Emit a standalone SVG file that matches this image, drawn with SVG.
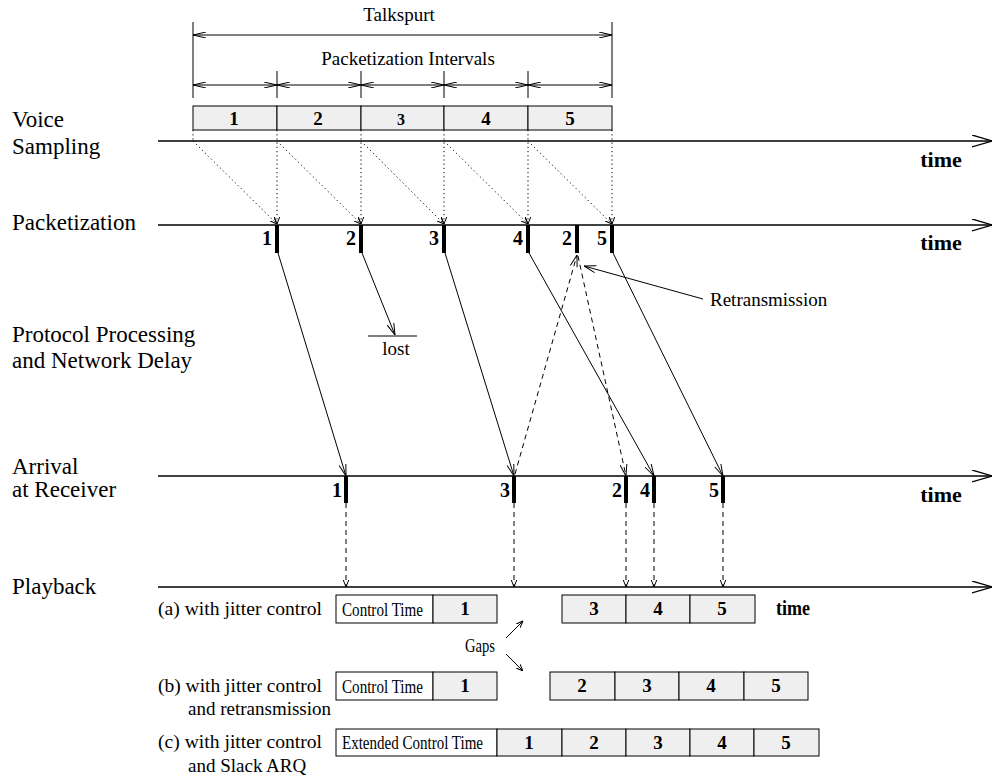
<svg xmlns="http://www.w3.org/2000/svg" width="994" height="776" viewBox="0 0 994 776">
  <style>
    text { font-family: "Liberation Serif", "Times New Roman", serif; fill: #000; }
    .h { font-size: 23px; }
    .n { font-size: 19px; }
    .c { font-size: 19.5px; }
    .b { font-size: 20px; font-weight: bold; }
    .bn { font-size: 19px; font-weight: bold; }
    .t { font-size: 22px; font-weight: bold; }
    .mid { text-anchor: middle; }
    .end { text-anchor: end; }
    .ln { stroke: #000; stroke-width: 1.3; fill: none; }
    .thin { stroke: #000; stroke-width: 1; fill: none; }
    .dot { stroke: #000; stroke-width: 1; stroke-dasharray: 1.2 3; fill: none; }
    .dash { stroke: #000; stroke-width: 1; stroke-dasharray: 5 4; fill: none; }
    .bar { stroke: #000; stroke-width: 4; }
    .cell { fill: #efefef; stroke: #000; stroke-width: 1; }
    .wcell { fill: #fff; stroke: #000; stroke-width: 1; }
  </style>
  <defs>
    <marker id="arr" viewBox="0 0 12 8" refX="12" refY="4" markerWidth="12" markerHeight="8" orient="auto" markerUnits="userSpaceOnUse">
      <path d="M0,0.5 L12,4 L0,7.5" fill="none" stroke="#000" stroke-width="1"/>
    </marker>
    <marker id="sm" viewBox="0 0 7 6" refX="7" refY="3" markerWidth="7" markerHeight="6" orient="auto" markerUnits="userSpaceOnUse">
      <path d="M0,0.3 L7,3 L0,5.7" fill="none" stroke="#000" stroke-width="1"/>
    </marker>
    <marker id="dim" viewBox="0 0 13 6" refX="13" refY="3" markerWidth="13" markerHeight="6" orient="auto-start-reverse" markerUnits="userSpaceOnUse">
      <path d="M0,0 L13,3 L0,6" fill="none" stroke="#000" stroke-width="1"/>
    </marker>
    <marker id="axis" viewBox="0 0 20 13" refX="20" refY="6.5" markerWidth="20" markerHeight="13" orient="auto" markerUnits="userSpaceOnUse">
      <path d="M0,0.5 L20,6.5 L0,12.5" fill="none" stroke="#000" stroke-width="1.3"/>
    </marker>
  </defs>

  <!-- talkspurt and packetization interval dimensions -->
  <g id="dimensions">
    <text class="n mid" x="399" y="21">Talkspurt</text>
    <line class="thin" x1="193" y1="22" x2="193" y2="98"/>
    <line class="thin" x1="612" y1="22" x2="612" y2="98"/>
    <line class="thin" x1="193" y1="35" x2="612" y2="35" marker-start="url(#dim)" marker-end="url(#dim)"/>
    <text class="n mid" x="408" y="65">Packetization Intervals</text>
    <line class="thin" x1="277" y1="71" x2="277" y2="98"/>
    <line class="thin" x1="361" y1="71" x2="361" y2="98"/>
    <line class="thin" x1="444" y1="71" x2="444" y2="98"/>
    <line class="thin" x1="528" y1="71" x2="528" y2="98"/>
    <line class="thin" x1="193" y1="85" x2="277" y2="85" marker-start="url(#dim)" marker-end="url(#dim)"/>
    <line class="thin" x1="277" y1="85" x2="361" y2="85" marker-start="url(#dim)" marker-end="url(#dim)"/>
    <line class="thin" x1="361" y1="85" x2="444" y2="85" marker-start="url(#dim)" marker-end="url(#dim)"/>
    <line class="thin" x1="444" y1="85" x2="528" y2="85" marker-start="url(#dim)" marker-end="url(#dim)"/>
    <line class="thin" x1="528" y1="85" x2="612" y2="85" marker-start="url(#dim)" marker-end="url(#dim)"/>
  </g>

  <!-- voice samples -->
  <g id="samples">
    <rect class="cell" x="193" y="106" width="84" height="24"/>
    <rect class="cell" x="277" y="106" width="84" height="24"/>
    <rect class="cell" x="361" y="106" width="83" height="24"/>
    <rect class="cell" x="444" y="106" width="84" height="24"/>
    <rect class="cell" x="528" y="106" width="84" height="24"/>
    <text class="bn mid" x="234" y="125">1</text>
    <text class="bn mid" x="318" y="125">2</text>
    <text class="bn mid" x="401" y="125" style="font-size:16px">3</text>
    <text class="bn mid" x="486" y="125">4</text>
    <text class="bn mid" x="570" y="125">5</text>
  </g>

  <!-- row labels -->
  <g id="labels">
    <text class="h" x="12" y="127">Voice</text>
    <text class="h" x="12" y="154">Sampling</text>
    <text class="h" x="12" y="230">Packetization</text>
    <text class="h" x="12" y="342">Protocol Processing</text>
    <text class="h" x="12" y="368">and Network Delay</text>
    <text class="h" x="12" y="474">Arrival</text>
    <text class="h" x="12" y="497">at Receiver</text>
    <text class="h" x="12" y="594">Playback</text>
    <text class="n" x="158" y="615" textLength="164" lengthAdjust="spacingAndGlyphs">(a) with jitter control</text>
    <text class="n" x="158" y="692" textLength="164" lengthAdjust="spacingAndGlyphs">(b) with jitter control</text>
    <text class="n" x="188" y="715">and retransmission</text>
    <text class="n" x="158" y="748" textLength="164" lengthAdjust="spacingAndGlyphs">(c) with jitter control</text>
    <text class="n" x="188" y="772">and Slack ARQ</text>
  </g>

  <!-- time axes -->
  <g id="axes">
    <line class="ln" x1="158" y1="141" x2="992" y2="141" marker-end="url(#axis)"/>
    <line class="ln" x1="158" y1="225" x2="992" y2="225" marker-end="url(#axis)"/>
    <line class="ln" x1="158" y1="476" x2="992" y2="476" marker-end="url(#axis)"/>
    <line class="ln" x1="158" y1="587" x2="992" y2="587" marker-end="url(#axis)"/>
    <text class="t mid" x="941" y="167">time</text>
    <text class="t mid" x="941" y="250">time</text>
    <text class="t mid" x="941" y="502">time</text>
    <text class="t" x="776" y="615" textLength="34" lengthAdjust="spacingAndGlyphs">time</text>
  </g>

  <!-- connectors -->
  <g id="connectors">
    <!-- sampling to packetization -->
    <line class="dot" x1="193" y1="130" x2="193" y2="141"/>
    <line class="dot" x1="193" y1="141" x2="277" y2="224" marker-end="url(#sm)"/>
    <line class="dot" x1="277" y1="130" x2="277" y2="224" marker-end="url(#sm)"/>
    <line class="dot" x1="277" y1="141" x2="361" y2="224" marker-end="url(#sm)"/>
    <line class="dot" x1="361" y1="130" x2="361" y2="224" marker-end="url(#sm)"/>
    <line class="dot" x1="361" y1="141" x2="444" y2="224" marker-end="url(#sm)"/>
    <line class="dot" x1="444" y1="130" x2="444" y2="224" marker-end="url(#sm)"/>
    <line class="dot" x1="444" y1="141" x2="528" y2="224" marker-end="url(#sm)"/>
    <line class="dot" x1="528" y1="130" x2="528" y2="224" marker-end="url(#sm)"/>
    <line class="dot" x1="528" y1="141" x2="612" y2="224" marker-end="url(#sm)"/>
    <line class="dot" x1="612" y1="130" x2="612" y2="224" marker-end="url(#sm)"/>

    <!-- network transfer -->
    <line class="thin" x1="278" y1="253" x2="346" y2="476" marker-end="url(#arr)"/>
    <line class="thin" x1="362" y1="253" x2="395" y2="335" marker-end="url(#arr)"/>
    <line class="thin" x1="368" y1="336" x2="417" y2="336"/>
    <line class="thin" x1="445" y1="253" x2="514" y2="476" marker-end="url(#arr)"/>
    <line class="thin" x1="529" y1="253" x2="654" y2="476" marker-end="url(#arr)"/>
    <line class="thin" x1="613" y1="253" x2="723" y2="476" marker-end="url(#arr)"/>

    <!-- retransmission request and resend -->
    <line class="dash" x1="515" y1="474" x2="577" y2="255" marker-end="url(#arr)"/>
    <line class="dash" x1="578" y1="256" x2="626" y2="476" marker-end="url(#arr)"/>
    <line class="thin" x1="703" y1="299" x2="584" y2="266" marker-end="url(#arr)"/>

    <!-- arrival to playback -->
    <line class="dash" x1="346" y1="503" x2="346" y2="587" marker-end="url(#sm)"/>
    <line class="dash" x1="514" y1="503" x2="514" y2="587" marker-end="url(#sm)"/>
    <line class="dash" x1="626" y1="503" x2="626" y2="587" marker-end="url(#sm)"/>
    <line class="dash" x1="654" y1="503" x2="654" y2="587" marker-end="url(#sm)"/>
    <line class="dash" x1="723" y1="503" x2="723" y2="587" marker-end="url(#sm)"/>

    <!-- gap pointers -->
    <line class="thin" x1="506" y1="638" x2="523" y2="621" marker-end="url(#sm)"/>
    <line class="thin" x1="506" y1="654" x2="523" y2="671" marker-end="url(#sm)"/>
  </g>

  <!-- packet markers at packetization -->
  <g id="packets-sent">
    <line class="bar" x1="277" y1="225" x2="277" y2="253"/>
    <line class="bar" x1="361" y1="225" x2="361" y2="253"/>
    <line class="bar" x1="444" y1="225" x2="444" y2="253"/>
    <line class="bar" x1="528" y1="225" x2="528" y2="253"/>
    <line class="bar" x1="577" y1="225" x2="577" y2="253"/>
    <line class="bar" x1="612" y1="225" x2="612" y2="253"/>
    <text class="b end" x="272" y="245">1</text>
    <text class="b end" x="356" y="245">2</text>
    <text class="b end" x="439" y="245">3</text>
    <text class="b end" x="523" y="245">4</text>
    <text class="b end" x="572" y="245">2</text>
    <text class="b end" x="607" y="245">5</text>
    <text class="n mid" x="396" y="355">lost</text>
    <text class="n" x="710" y="306">Retransmission</text>
  </g>

  <!-- packet markers at receiver -->
  <g id="packets-received">
    <line class="bar" x1="346" y1="476" x2="346" y2="503"/>
    <line class="bar" x1="514" y1="476" x2="514" y2="503"/>
    <line class="bar" x1="626" y1="476" x2="626" y2="503"/>
    <line class="bar" x1="654" y1="476" x2="654" y2="503"/>
    <line class="bar" x1="723" y1="476" x2="723" y2="503"/>
    <text class="b end" x="342" y="497">1</text>
    <text class="b end" x="510" y="497">3</text>
    <text class="b end" x="622" y="497">2</text>
    <text class="b end" x="650" y="497">4</text>
    <text class="b end" x="719" y="497">5</text>
  </g>

  <!-- playback (a) -->
  <g id="playback-a">
    <rect class="wcell" x="336" y="595" width="97" height="28"/>
    <rect class="cell" x="433" y="595" width="64" height="28"/>
    <rect class="cell" x="562" y="595" width="64" height="28"/>
    <rect class="cell" x="626" y="595" width="64" height="28"/>
    <rect class="cell" x="690" y="595" width="65" height="28"/>
    <text class="c" x="342" y="615.5" textLength="81" lengthAdjust="spacingAndGlyphs">Control Time</text>
    <text class="bn mid" x="465" y="615">1</text>
    <text class="bn mid" x="594" y="615">3</text>
    <text class="bn mid" x="658" y="615">4</text>
    <text class="bn mid" x="722" y="615">5</text>
  </g>

  <g id="gaps">
    <text class="c" x="465" y="652" textLength="30" lengthAdjust="spacingAndGlyphs">Gaps</text>
  </g>

  <!-- playback (b) -->
  <g id="playback-b">
    <rect class="wcell" x="336" y="672" width="97" height="28"/>
    <rect class="cell" x="433" y="672" width="64" height="28"/>
    <rect class="cell" x="550" y="672" width="65" height="28"/>
    <rect class="cell" x="615" y="672" width="64" height="28"/>
    <rect class="cell" x="679" y="672" width="65" height="28"/>
    <rect class="cell" x="744" y="672" width="64" height="28"/>
    <text class="c" x="342" y="692.5" textLength="81" lengthAdjust="spacingAndGlyphs">Control Time</text>
    <text class="bn mid" x="465" y="692">1</text>
    <text class="bn mid" x="582" y="692">2</text>
    <text class="bn mid" x="647" y="692">3</text>
    <text class="bn mid" x="711" y="692">4</text>
    <text class="bn mid" x="776" y="692">5</text>
  </g>

  <!-- playback (c) -->
  <g id="playback-c">
    <rect class="wcell" x="336" y="729" width="161" height="27"/>
    <rect class="cell" x="497" y="729" width="65" height="27"/>
    <rect class="cell" x="562" y="729" width="64" height="27"/>
    <rect class="cell" x="626" y="729" width="64" height="27"/>
    <rect class="cell" x="690" y="729" width="64" height="27"/>
    <rect class="cell" x="754" y="729" width="65" height="27"/>
    <text class="c" x="342" y="749" textLength="141" lengthAdjust="spacingAndGlyphs">Extended Control Time</text>
    <text class="bn mid" x="529" y="749">1</text>
    <text class="bn mid" x="594" y="749">2</text>
    <text class="bn mid" x="658" y="749">3</text>
    <text class="bn mid" x="722" y="749">4</text>
    <text class="bn mid" x="786" y="749">5</text>
  </g>
</svg>
